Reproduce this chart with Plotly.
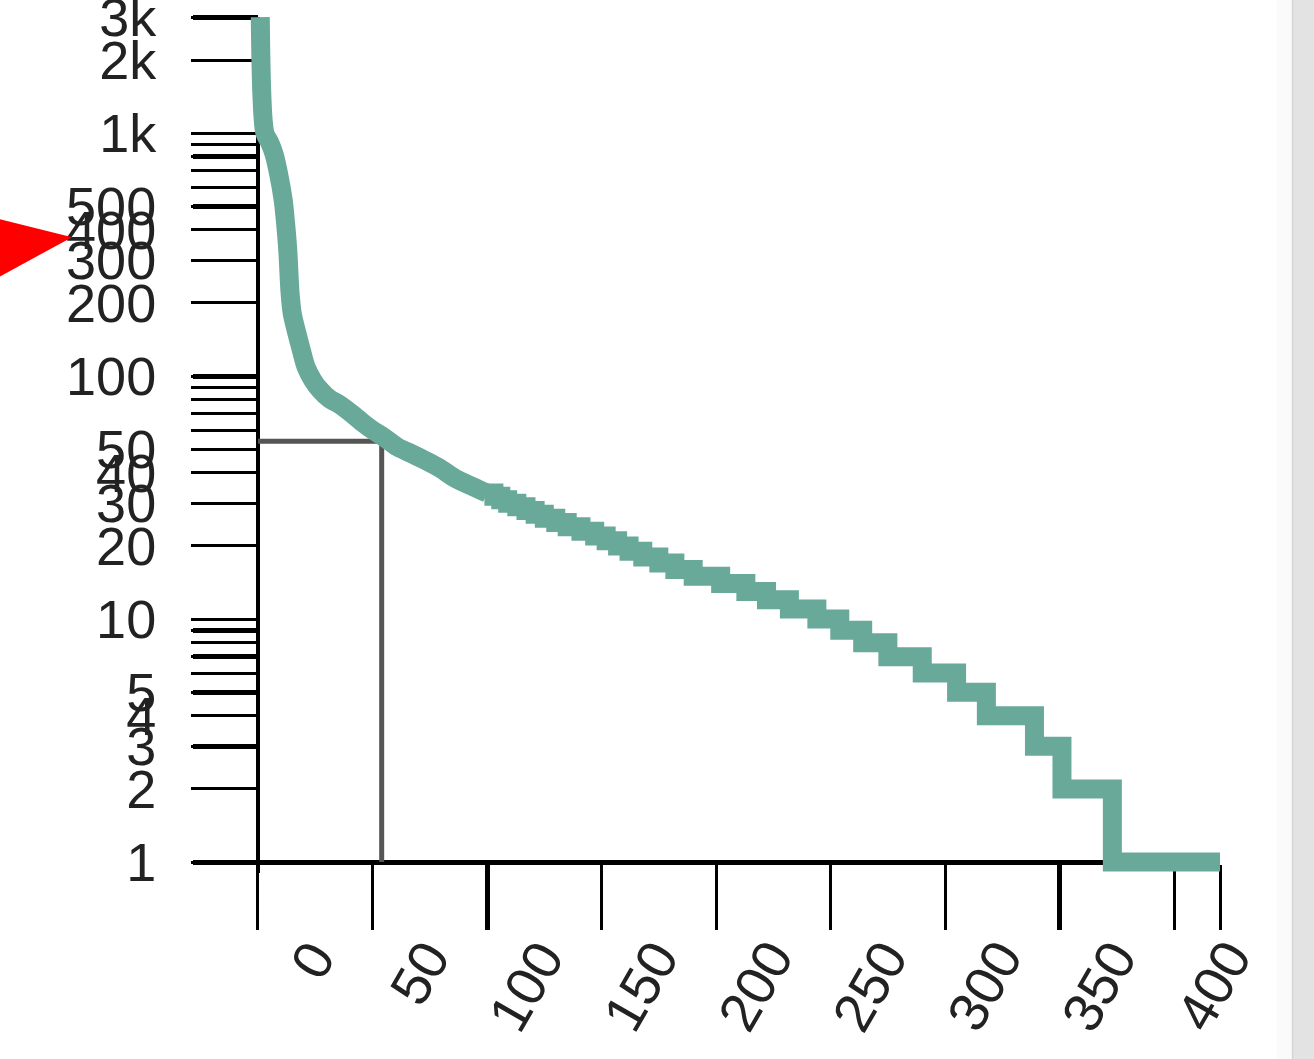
import plotly.graph_objects as go

# ---------------- data ----------------
# smooth head of the rank/frequency curve
head_rank = [1, 3, 5, 7, 9, 11, 12, 13, 14, 15, 17, 19, 21, 24, 27, 31, 36,
             41, 46, 50, 55, 61, 67, 73, 79, 86, 94, 100]
head_count = [3000, 1000, 920, 820, 680, 530, 430, 330, 220, 180, 150, 127,
              109, 96, 88, 81, 76, 70, 64, 60, 56, 51, 48, 45, 42, 38, 35, 33]
# integer-count tail (rank where each count level starts)
tail_rank = [100, 103, 106, 109, 113, 117, 121, 125, 130, 135, 141, 147, 152,
             157, 162, 168, 175, 182, 190, 202, 213, 222, 232, 244, 254, 264,
             275, 290, 305, 318, 339, 351, 373, 420]
tail_count = [33, 32, 31, 30, 29, 28, 27, 26, 25, 24, 23, 22, 21, 20, 19, 18,
              17, 16, 15, 14, 13, 12, 11, 10, 9, 8, 7, 6, 5, 4, 3, 2, 1, 1]
h_index = 54

y_label_vals = [1, 2, 3, 4, 5, 10, 20, 30, 40, 50, 100, 200, 300, 400, 500,
                1000, 2000, 3000]
y_label_text = ["1", "2", "3", "4", "5", "10", "20", "30", "40", "50", "100",
                "200", "300", "400", "500", "1k", "2k", "3k"]
y_minor_vals = [6, 7, 8, 9, 60, 70, 80, 90, 600, 700, 800, 900]
y_bold_vals = [1, 3, 5, 7, 9, 100, 500, 800, 3000]

x_tick_vals = [0, 50, 100, 150, 200, 250, 300, 350, 400]
x_tick_text = ["0", "50", "100", "150", "200", "250", "300", "350", "400"]
x_end = 420
x_bold_vals = [100, 350]

# ---------------- layout geometry ----------------
W, H = 1314, 1059
X0PX, XPU = 258, 2.2914      # pixel of x=0, pixels per unit
Y1PX, YPD = 862, 243         # pixel of y=1, pixels per decade
xr = [-4.8, x_end]
yr = [-0.045, 3.478]
L = X0PX + xr[0] * XPU
R = W - (X0PX + xr[1] * XPU)
T = Y1PX - yr[1] * YPD
B = H - (Y1PX - yr[0] * YPD)
pw, ph = W - L - R, H - T - B


def px(x):
    return (x - L) / pw


def py(y):
    return (H - B - y) / ph


x_axis_pos = (0 - yr[0]) / (yr[1] - yr[0])
y_axis_pos = (0 - xr[0]) / (xr[1] - xr[0])

TEAL = "#68a99a"
GRAY = "#555555"
INK = "#222222"
FONT = "Liberation Sans, Arial, sans-serif"

fig = go.Figure()

fig.add_trace(go.Scatter(
    x=[0, h_index, h_index], y=[h_index, h_index, 1],
    mode="lines", line=dict(color=GRAY, width=5),
    hoverinfo="skip", showlegend=False,
))
fig.add_trace(go.Scatter(
    x=head_rank, y=head_count, mode="lines",
    line=dict(color=TEAL, width=19, shape="spline", smoothing=0.8),
    showlegend=False,
))
fig.add_trace(go.Scatter(
    x=tail_rank, y=tail_count, mode="lines",
    line=dict(color=TEAL, width=19, shape="hv"), showlegend=False,
))
# invisible trace so the overlay axis (bold ticks) is drawn
fig.add_trace(go.Scatter(
    x=[head_rank[0]], y=[head_count[0]], yaxis="y2", mode="markers",
    marker=dict(opacity=0), hoverinfo="skip", showlegend=False,
))

fig.update_layout(
    width=W, height=H,
    margin=dict(l=L, r=R, t=T, b=B, autoexpand=False),
    paper_bgcolor="white", plot_bgcolor="white",
    showlegend=False,
    xaxis=dict(
        range=xr, showgrid=False, zeroline=False,
        anchor="free", position=x_axis_pos,
        showline=True, linecolor="black", linewidth=5,
        ticks="outside", ticklen=65, tickwidth=2.5, tickcolor="black",
        tickmode="array",
        tickvals=[v for v in x_tick_vals + [x_end] if v not in x_bold_vals],
        showticklabels=False,
        minor=dict(tickmode="array", tickvals=x_bold_vals, ticks="outside",
                   ticklen=65, tickwidth=5, tickcolor="black", showgrid=False),
        layer="below traces", automargin=False,
    ),
    yaxis=dict(
        type="log", range=yr, showgrid=False, zeroline=False,
        anchor="free", position=y_axis_pos,
        showline=True, linecolor="black", linewidth=4,
        ticks="outside", ticklen=65, tickwidth=2.5, tickcolor="black",
        tickmode="array", tickvals=y_label_vals, ticktext=y_label_text,
        tickfont=dict(family=FONT, size=54, color=INK),
        ticklabelstandoff=24, ticklabeloverflow="allow",
        minor=dict(tickmode="array", tickvals=y_minor_vals, ticks="outside",
                   ticklen=65, tickwidth=2.5, tickcolor="black", showgrid=False),
        layer="below traces", automargin=False,
    ),
    yaxis2=dict(
        type="log", range=yr, overlaying="y", anchor="free",
        position=y_axis_pos, side="left",
        showgrid=False, zeroline=False, showline=False,
        ticks="outside", ticklen=65, tickwidth=5, tickcolor="black",
        tickmode="array", tickvals=y_bold_vals, showticklabels=False,
        layer="below traces", automargin=False,
    ),
)

# rotated x tick labels
for v, t in zip(x_tick_vals, x_tick_text):
    fig.add_annotation(
        x=v, y=py(928), xref="x", yref="paper", text=t, showarrow=False,
        textangle=-60, xanchor="right", yanchor="top", xshift=92,
        font=dict(family=FONT, size=55, color=INK),
    )

# light strip + scrollbar at the right edge
fig.add_shape(type="rect", xref="paper", yref="paper",
              x0=px(1277), x1=px(1293), y0=py(H + 5), y1=py(-5),
              fillcolor="#fafafa", line=dict(width=0), layer="below")
fig.add_shape(type="rect", xref="paper", yref="paper",
              x0=px(1293), x1=px(W + 5), y0=py(H + 5), y1=py(-5),
              fillcolor="#e3e3e3", line=dict(width=0), layer="above")
fig.add_shape(type="line", xref="paper", yref="paper",
              x0=px(1293), x1=px(1293), y0=py(H + 5), y1=py(-5),
              line=dict(color="#d6d6d6", width=1.5), layer="above")

# red pointer arrow on the left
fig.add_shape(
    type="path", xref="paper", yref="paper",
    path=f"M {px(-5)},{py(218)} L {px(72)},{py(237)} L {px(-5)},{py(279)} Z",
    fillcolor="#ff0000", line=dict(width=0), layer="above",
)

fig.write_html("out.html")
